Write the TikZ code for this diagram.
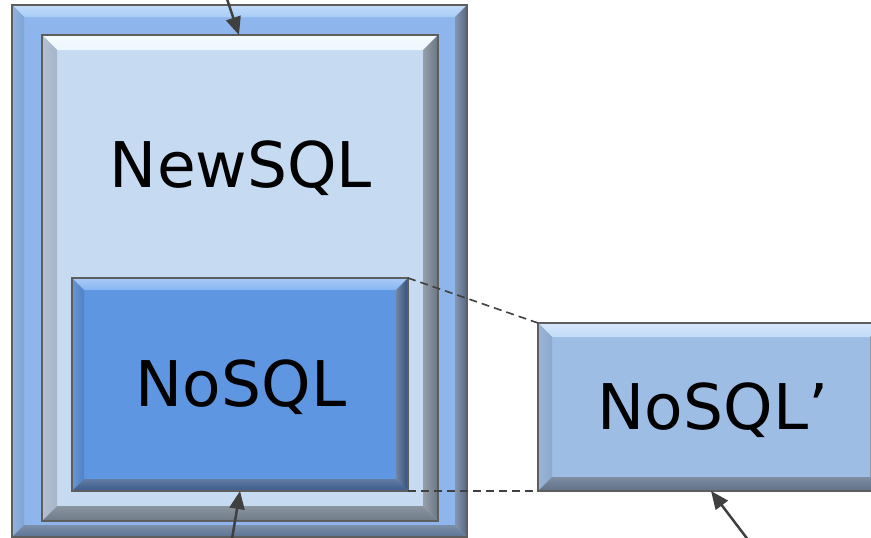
\documentclass[tikz,border=0pt]{standalone}
\usepackage{fontspec}
\setmainfont{DejaVu Sans}
\usetikzlibrary{arrows.meta,calc}
\definecolor{outerF}{HTML}{8FB6EC}
\definecolor{outerT}{HTML}{A8CCF6}
\definecolor{outerL}{HTML}{7FA4D6}
\definecolor{outerR}{HTML}{52688A}
\definecolor{outerB}{HTML}{5C7394}
\definecolor{innF}{HTML}{C6DAF2}
\definecolor{innT}{HTML}{EEF7FF}
\definecolor{innL}{HTML}{A6B5C9}
\definecolor{innR}{HTML}{6A7684}
\definecolor{innB}{HTML}{6E7A88}
\definecolor{noF}{HTML}{5E96E2}
\definecolor{noT}{HTML}{86B5F2}
\definecolor{noL}{HTML}{4F82C8}
\definecolor{noR}{HTML}{33507C}
\definecolor{noB}{HTML}{3A5A8C}
\definecolor{npF}{HTML}{9EBDE4}
\definecolor{npT}{HTML}{C2DBF8}
\definecolor{npL}{HTML}{8AA8CE}
\definecolor{npR}{HTML}{5D6E84}
\definecolor{npB}{HTML}{5F7088}
\definecolor{edge}{HTML}{5E5E5E}
\definecolor{arr}{HTML}{404040}
% #1 node, #2 bevel, #3 top, #4 left, #5 right, #6 bottom
\newcommand\bevelbox[6]{%
  \shade[top color=#3!70!white, bottom color=#3] (#1.north west) -- (#1.north east) -- ([shift={(-#2,-#2)}]#1.north east) -- ([shift={(#2,-#2)}]#1.north west) -- cycle;
  \shade[left color=#4!85!white, right color=#4] (#1.north west) -- ([shift={(#2,-#2)}]#1.north west) -- ([shift={(#2,#2)}]#1.south west) -- (#1.south west) -- cycle;
  \shade[left color=#5!70!white, right color=#5] (#1.north east) -- (#1.south east) -- ([shift={(-#2,#2)}]#1.south east) -- ([shift={(-#2,-#2)}]#1.north east) -- cycle;
  \shade[top color=#6!80!white, bottom color=#6] (#1.south west) -- ([shift={(#2,#2)}]#1.south west) -- ([shift={(-#2,#2)}]#1.south east) -- (#1.south east) -- cycle;
  \draw[edge, line width=1.6pt] (#1.north west) rectangle (#1.south east);
}
\tikzset{
  box/.style={rectangle, inner sep=0pt, outer sep=0pt},
  lbl/.style={font=\fontsize{63}{70}\selectfont, text=black, inner sep=0pt},
  pointer/.style={draw=arr, line width=2.5pt, -{Triangle[length=18pt,width=15pt]}},
  link/.style={draw=arr, line width=1.6pt, dash pattern=on 8pt off 5pt}
}
\begin{document}
\begin{tikzpicture}[x=1pt,y=-1pt]
\clip (0,0) rectangle (871,538);
\fill[white] (0,0) rectangle (871,538);
\node[box, fill=outerF, minimum width=455pt, minimum height=532pt] (outer) at (239.5,271) {};
\bevelbox{outer}{12pt}{outerT}{outerL}{outerR}{outerB}
\node[box, fill=innF, minimum width=396pt, minimum height=486pt] (inner) at (240,278) {};
\bevelbox{inner}{15pt}{innT}{innL}{innR}{innB}
\node[box, fill=noF, minimum width=336pt, minimum height=213pt] (nosql) at (240,384.5) {};
\bevelbox{nosql}{12pt}{noT}{noL}{noR}{noB}
\node[box, fill=npF, minimum width=346pt, minimum height=168pt] (nosqlp) at (711,407) {};
\bevelbox{nosqlp}{14pt}{npT}{npL}{npR}{npB}
\draw[link] (nosql.north east) -- (nosqlp.north west);
\draw[link] (nosql.south east) -- (nosqlp.south west);
\node[lbl] (t1) at (241,168) {NewSQL};
\node[lbl] (t2) at (241,387) {NoSQL};
\node[lbl] (t3) at (713,410) {NoSQL’};
\coordinate (a1) at (226,-4);
\coordinate (a2) at (231,545);
\coordinate (a3) at (752,545);
\draw[pointer] (a1) -- ([xshift=-1pt]inner.north);
\draw[pointer] (a2) -- (nosql.south);
\draw[pointer] (a3) -- (nosqlp.south);
\end{tikzpicture}
\end{document}
